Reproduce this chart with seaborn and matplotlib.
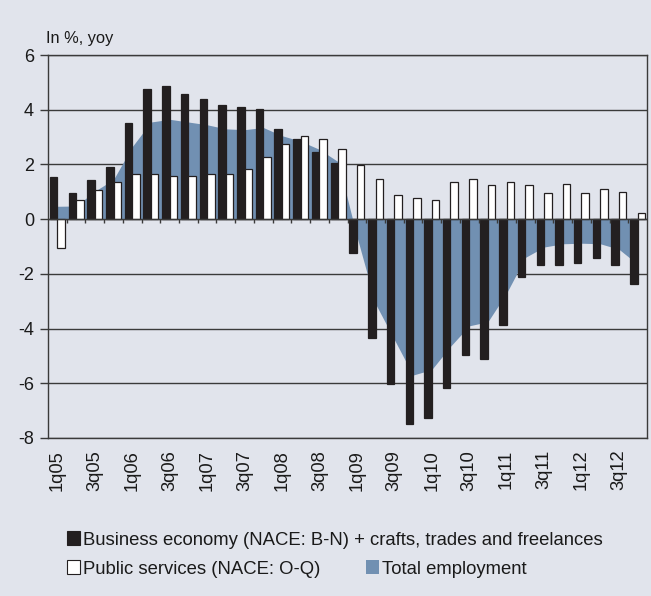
import numpy as np
import pandas as pd
import matplotlib
matplotlib.use("Agg")
import matplotlib.pyplot as plt
from matplotlib.patches import Patch
import seaborn as sns

# Quarterly year-on-year employment growth, in %
quarters = ["1q05", "2q05", "3q05", "4q05", "1q06", "2q06", "3q06", "4q06",
            "1q07", "2q07", "3q07", "4q07", "1q08", "2q08", "3q08", "4q08",
            "1q09", "2q09", "3q09", "4q09", "1q10", "2q10", "3q10", "4q10",
            "1q11", "2q11", "3q11", "4q11", "1q12", "2q12", "3q12", "4q12"]

business = [1.54, 0.95, 1.42, 1.89, 3.52, 4.74, 4.85, 4.57,
            4.39, 4.16, 4.10, 4.04, 3.28, 2.93, 2.47, 2.06,
            -1.24, -4.34, -6.02, -7.50, -7.27, -6.16, -4.98, -5.11,
            -3.88, -2.13, -1.67, -1.67, -1.60, -1.42, -1.67, -2.36]

public = [-1.06, 0.70, 1.05, 1.36, 1.65, 1.65, 1.58, 1.58,
          1.65, 1.65, 1.82, 2.28, 2.74, 3.03, 2.93, 2.58,
          1.99, 1.47, 0.88, 0.76, 0.70, 1.36, 1.47, 1.24,
          1.36, 1.24, 0.95, 1.30, 0.95, 1.12, 1.01, 0.21]

total = [0.47, 0.48, 1.02, 1.45, 2.65, 3.55, 3.65, 3.55,
         3.45, 3.30, 3.27, 3.35, 3.05, 2.85, 2.55, 2.10,
         -0.63, -3.10, -4.40, -5.70, -5.50, -4.65, -3.90, -3.75,
         -2.70, -1.40, -1.02, -0.90, -0.88, -0.90, -1.10, -1.65]

tick_labels = ["1q05", "3q05", "1q06", "3q06", "1q07", "3q07", "1q08", "3q08",
               "1q09", "3q09", "1q10", "3q10", "1q11", "3q11", "1q12", "3q12"]
y_ticks = [-8, -6, -4, -2, 0, 2, 4, 6]

name_bus = "Business economy (NACE: B-N) + crafts, trades and freelances"
name_pub = "Public services (NACE: O-Q)"
name_tot = "Total employment"

BG = "#E1E4EC"
DARK = "#231F20"
LINE = "#3A3A3A"
BLUE = "#7190B2"
TEXT = "#1A1A1A"

sns.set_theme(style="white")
plt.rcParams["font.family"] = ["Liberation Sans", "DejaVu Sans"]
plt.rcParams["axes.unicode_minus"] = False

df = pd.DataFrame({
    "quarter": quarters * 2,
    "series": [name_bus] * len(quarters) + [name_pub] * len(quarters),
    "value": business + public,
})

W, H = 651, 596
fig = plt.figure(figsize=(W / 100, H / 100), dpi=100, facecolor=BG)
ax = fig.add_axes([48 / W, (H - 438) / H, (647 - 48) / W, (438 - 55) / H])
ax.set_facecolor(BG)

# total employment as a shaded area behind the bars
xpos = np.arange(len(quarters))
ax.fill_between(xpos, total, 0, color=BLUE, lw=0, zorder=0.9)

sns.barplot(data=df, x="quarter", y="value", hue="series", order=quarters,
            hue_order=[name_bus, name_pub],
            palette={name_bus: DARK, name_pub: "white"},
            saturation=1, edgecolor=DARK, linewidth=0.9, errorbar=None,
            legend=False, ax=ax, zorder=1.5)

ax.set_ylim(-8, 6)
ax.set_xlim(-0.5, len(quarters) - 0.5)
ax.set_yticks(y_ticks)
ax.set_yticklabels([str(v) for v in y_ticks])
ax.set_axisbelow(True)
ax.yaxis.grid(True, color=LINE, lw=1)
ax.xaxis.grid(False)

# category axis crossing at zero, with tick marks between categories
ax.axhline(0, color=LINE, lw=1, zorder=2.5)
ax.vlines(np.arange(0.5, len(quarters) - 0.5, 1), -0.15, 0, color=LINE, lw=1, zorder=2.5)

ax.set_xticks(xpos[::2])
ax.set_xticklabels(tick_labels, rotation=90, fontsize=13.2, color=TEXT)
ax.tick_params(axis="x", length=0, pad=8.5)
ax.tick_params(axis="y", length=6, width=1, color=LINE, direction="out", pad=4,
               labelsize=13, labelcolor=TEXT, left=True)
ax.set_xlabel("")
ax.set_ylabel("")
for s in ax.spines.values():
    s.set_color(LINE)
    s.set_linewidth(1)
    s.set_visible(True)

fig.text(46 / W, 1 - 39 / H, "In %, yoy", fontsize=11.8, color=TEXT,
         ha="left", va="center")

# legend: first row business economy, second row public services and total
h_bus = Patch(facecolor=DARK, edgecolor=DARK, lw=0.8)
h_pub = Patch(facecolor="white", edgecolor=DARK, lw=0.8)
h_tot = Patch(facecolor=BLUE, edgecolor=BLUE, lw=0)
common = dict(frameon=False, fontsize=13.3, handlelength=0.72, handleheight=0.72,
              handletextpad=0.15, borderpad=0, borderaxespad=0, loc="center left",
              labelcolor=TEXT)
leg1 = fig.legend([h_bus], [name_bus], bbox_to_anchor=(67 / W, 1 - 540 / H), **common)
leg2 = fig.legend([h_pub, h_tot], [name_pub, name_tot], ncol=2, columnspacing=2.45,
                  bbox_to_anchor=(67 / W, 1 - 569 / H), **common)

fig.savefig("out.png", dpi=100, facecolor=BG)
